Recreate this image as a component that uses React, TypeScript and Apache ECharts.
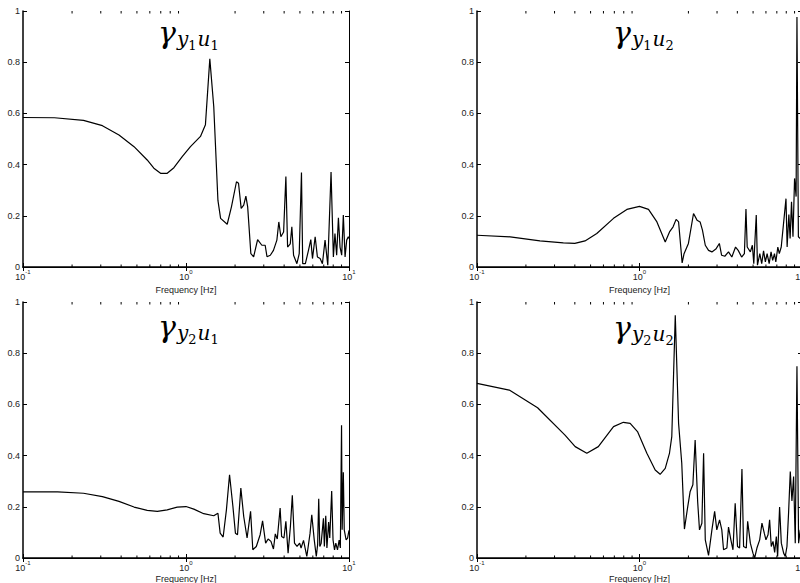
import React, { useEffect, useRef } from "react";
import * as echarts from "echarts";

const panelTitles = [
  ["y", "1", "u", "1"],
  ["y", "1", "u", "2"],
  ["y", "2", "u", "1"],
  ["y", "2", "u", "2"],
];
const xAxisName = "Frequency [Hz]";
const minorTickFreqs = [0.2, 0.3, 0.4, 0.5, 0.6, 0.7, 0.8, 0.9, 2, 3, 4, 5, 6, 7, 8, 9];

const cohY1U1: [number, number][] = [
  [0.1, 0.584], [0.156, 0.583], [0.235, 0.573], [0.307, 0.552], [0.388, 0.516], [0.48, 0.47],
  [0.578, 0.418], [0.635, 0.386], [0.698, 0.366], [0.767, 0.366], [0.843, 0.388], [0.948, 0.431],
  [1.065, 0.47], [1.227, 0.51], [1.316, 0.556], [1.4, 0.813], [1.48, 0.627], [1.57, 0.26],
  [1.63, 0.19], [1.79, 0.167], [1.9, 0.235], [2.04, 0.333], [2.1, 0.327], [2.18, 0.229],
  [2.26, 0.242], [2.33, 0.277], [2.39, 0.235], [2.5, 0.052], [2.6, 0.04], [2.75, 0.107],
  [2.92, 0.085], [3.06, 0.085], [3.14, 0.04], [3.29, 0.046], [3.44, 0.065], [3.61, 0.105],
  [3.71, 0.176], [3.82, 0.118], [3.97, 0.137], [4.1, 0.353], [4.2, 0.078], [4.36, 0.09],
  [4.46, 0.157], [4.57, 0.046], [4.79, 0.013], [4.95, 0.052], [5.11, 0.369], [5.2, 0.013],
  [5.4, 0.013], [5.64, 0.065], [5.83, 0.107], [5.97, 0.033], [6.2, 0.118], [6.4, 0.039],
  [6.65, 0.033], [6.87, 0.013], [7.13, 0.105], [7.41, 0.007], [7.76, 0.371], [8.02, 0.039],
  [8.2, 0.131], [8.4, 0.046], [8.61, 0.192], [8.81, 0.078], [9.02, 0.046], [9.23, 0.203],
  [9.46, 0.039], [9.68, 0.105], [9.9, 0.118], [10, 0.111],
];

const cohY1U2: [number, number][] = [
  [0.1, 0.124], [0.16, 0.118], [0.244, 0.102], [0.34, 0.094], [0.4, 0.092], [0.462, 0.102],
  [0.546, 0.131], [0.692, 0.19], [0.836, 0.225], [1.0, 0.237], [1.136, 0.225], [1.28, 0.176],
  [1.44, 0.098], [1.53, 0.137], [1.61, 0.157], [1.68, 0.186], [1.74, 0.176], [1.83, 0.016],
  [1.88, 0.052], [2.0, 0.092], [2.15, 0.209], [2.26, 0.183], [2.36, 0.176], [2.44, 0.144],
  [2.54, 0.085], [2.66, 0.065], [2.79, 0.059], [2.95, 0.07], [3.1, 0.092], [3.2, 0.046],
  [3.35, 0.042], [3.53, 0.059], [3.7, 0.039], [3.9, 0.078], [4.05, 0.065], [4.25, 0.039],
  [4.42, 0.052], [4.52, 0.226], [4.6, 0.078], [4.81, 0.059], [4.95, 0.085], [5.05, 0.013],
  [5.23, 0.203], [5.32, 0.007], [5.5, 0.052], [5.65, 0.013], [5.8, 0.063], [5.95, 0.02],
  [6.1, 0.052], [6.28, 0.013], [6.45, 0.059], [6.6, 0.026], [6.77, 0.052], [6.9, 0.02],
  [7.1, 0.078], [7.25, 0.052], [7.45, 0.078], [7.97, 0.267], [8.1, 0.078], [8.3, 0.205],
  [8.45, 0.111], [8.62, 0.255], [8.8, 0.118], [9.0, 0.346], [9.2, 0.275], [9.31, 0.977],
  [9.5, 0.118], [9.76, 0.111], [10, 0.115],
];

const cohY2U1: [number, number][] = [
  [0.1, 0.258], [0.163, 0.258], [0.235, 0.253], [0.307, 0.24], [0.388, 0.221], [0.48, 0.199],
  [0.578, 0.186], [0.667, 0.182], [0.767, 0.188], [0.883, 0.199], [1.0, 0.201], [1.117, 0.191],
  [1.285, 0.173], [1.48, 0.165], [1.57, 0.175], [1.62, 0.097], [1.69, 0.082], [1.77, 0.188],
  [1.85, 0.325], [1.94, 0.201], [2.01, 0.097], [2.07, 0.091], [2.17, 0.273], [2.26, 0.162],
  [2.37, 0.078], [2.49, 0.182], [2.57, 0.032], [2.7, 0.045], [2.85, 0.091], [2.95, 0.145],
  [3.08, 0.058], [3.19, 0.074], [3.32, 0.065], [3.44, 0.035], [3.53, 0.094], [3.63, 0.074],
  [3.78, 0.195], [3.86, 0.084], [3.99, 0.078], [4.1, 0.143], [4.23, 0.019], [4.37, 0.123],
  [4.49, 0.245], [4.63, 0.058], [4.8, 0.045], [4.98, 0.058], [5.08, 0.039], [5.26, 0.069],
  [5.51, 0.006], [5.77, 0.097], [5.91, 0.169], [6.12, 0.071], [6.3, 0.006], [6.42, 0.052],
  [6.52, 0.231], [6.62, 0.045], [6.75, 0.058], [6.97, 0.155], [7.06, 0.045], [7.2, 0.165],
  [7.32, 0.039], [7.5, 0.14], [7.62, 0.078], [7.83, 0.262], [7.98, 0.071], [8.15, 0.032],
  [8.3, 0.058], [8.5, 0.032], [8.7, 0.07], [8.85, 0.039], [9.0, 0.519], [9.08, 0.11],
  [9.23, 0.335], [9.35, 0.11], [9.6, 0.071], [9.8, 0.078], [10, 0.108],
];

const cohY2U2: [number, number][] = [
  [0.1, 0.682], [0.158, 0.656], [0.236, 0.587], [0.348, 0.48], [0.402, 0.435], [0.474, 0.409],
  [0.558, 0.435], [0.692, 0.513], [0.796, 0.53], [0.876, 0.526], [0.972, 0.494], [1.11, 0.409],
  [1.249, 0.344], [1.34, 0.327], [1.44, 0.35], [1.53, 0.41], [1.58, 0.474], [1.66, 0.948],
  [1.74, 0.526], [1.82, 0.37], [1.89, 0.113], [1.98, 0.2], [2.05, 0.26], [2.13, 0.286],
  [2.2, 0.461], [2.28, 0.22], [2.34, 0.11], [2.42, 0.136], [2.48, 0.409], [2.54, 0.071],
  [2.66, 0.01], [2.79, 0.11], [2.9, 0.182], [2.99, 0.11], [3.11, 0.149], [3.21, 0.11],
  [3.29, 0.032], [3.45, 0.039], [3.53, 0.121], [3.65, 0.071], [3.76, 0.032], [3.88, 0.214],
  [4.01, 0.045], [4.13, 0.039], [4.27, 0.348], [4.37, 0.045], [4.54, 0.039], [4.63, 0.143],
  [4.81, 0.058], [4.99, 0.019], [5.11, 0.0], [5.28, 0.039], [5.49, 0.071], [5.67, 0.136],
  [5.86, 0.097], [6.0, 0.071], [6.18, 0.091], [6.32, 0.149], [6.47, 0.045], [6.63, 0.065],
  [6.79, 0.022], [6.95, 0.084], [7.08, 0.006], [7.28, 0.199], [7.46, 0.058], [7.71, 0.019],
  [7.89, 0.006], [8.08, 0.045], [8.27, 0.178], [8.47, 0.338], [8.67, 0.223], [8.88, 0.318],
  [9.09, 0.058], [9.31, 0.749], [9.53, 0.058], [9.76, 0.11], [10, 0.1],
];

const seriesData = [cohY1U1, cohY1U2, cohY2U1, cohY2U2];

const grids = [
  { left: 23, top: 11, width: 326, height: 256 },
  { left: 477, top: 11, width: 325, height: 256 },
  { left: 23, top: 302, width: 326, height: 256 },
  { left: 477, top: 302, width: 325, height: 256 },
];
const titlePos = [
  [158, 20],
  [613, 20],
  [158, 314],
  [613, 315],
];

const SANS = "Liberation Sans";
const SERIF = "'DejaVu Serif', serif";

export default function App() {
  const ref = useRef<HTMLDivElement>(null);
  useEffect(() => {
    document.body.style.margin = "0";
    const chart = echarts.init(ref.current!, null, { renderer: "svg" });
    const xAxes: any[] = [];
    const yAxes: any[] = [];
    const series: any[] = [];
    grids.forEach((g, i) => {
      xAxes.push({
        type: "log",
        logBase: 10,
        gridIndex: i,
        min: 0.1,
        max: 10,
        position: "bottom",
        name: xAxisName,
        nameLocation: "middle",
        nameGap: i < 2 ? 18 : 16,
        nameTextStyle: { fontFamily: SANS, fontSize: 9, color: "#222" },
        axisLine: { show: true, lineStyle: { color: "#000", width: 1.5 } },
        axisTick: { show: true, inside: true, length: 4, lineStyle: { color: "#000" } },
        splitLine: { show: false },
        axisLabel: {
          margin: 3,
          color: "#222",
          formatter: (v: number) => {
            const e = Math.round(Math.log10(v));
            return `{b|10}{e|${e}}`;
          },
          rich: {
            b: { fontFamily: SANS, fontSize: 9, color: "#222", verticalAlign: "bottom", lineHeight: 11 },
            e: { fontFamily: SANS, fontSize: 6, color: "#222", verticalAlign: "bottom", lineHeight: 11, padding: [0, 0, 6, 0] },
          },
        },
      });
      xAxes.push({
        type: "log",
        logBase: 10,
        gridIndex: i,
        min: 0.1,
        max: 10,
        position: "top",
        axisLine: { show: true, lineStyle: { color: "#000", width: 1 } },
        axisTick: { show: true, inside: true, length: 4, lineStyle: { color: "#000" } },
        axisLabel: { show: false },
        splitLine: { show: false },
      });
      yAxes.push({
        type: "value",
        gridIndex: i,
        min: 0,
        max: 1,
        interval: 0.2,
        position: "left",
        axisLine: { show: true, lineStyle: { color: "#000", width: 1.5 } },
        axisTick: { show: true, inside: true, length: 4, lineStyle: { color: "#000" } },
        splitLine: { show: false },
        axisLabel: { margin: 3, fontFamily: SANS, fontSize: 9, color: "#222" },
      });
      yAxes.push({
        type: "value",
        gridIndex: i,
        min: 0,
        max: 1,
        interval: 0.2,
        position: "right",
        axisLine: { show: true, lineStyle: { color: "#000", width: 1 } },
        axisTick: { show: true, inside: true, length: 4, lineStyle: { color: "#000" } },
        splitLine: { show: false },
        axisLabel: { show: false },
      });
      series.push({
        type: "line",
        xAxisIndex: 2 * i,
        yAxisIndex: 2 * i,
        data: seriesData[i],
        showSymbol: false,
        symbol: "none",
        lineStyle: { color: "#000", width: 1.2 },
        z: 3,
      });
      series.push({
        type: "custom",
        xAxisIndex: 2 * i,
        yAxisIndex: 2 * i,
        data: minorTickFreqs.map((f) => [f, 0]),
        encode: { x: 0, y: 1 },
        renderItem: (params: any, api: any) => {
          const f = api.value(0);
          const pb = api.coord([f, 0]);
          const pt = api.coord([f, 1]);
          return {
            type: "group",
            children: [
              { type: "line", shape: { x1: pb[0], y1: pb[1], x2: pb[0], y2: pb[1] - 2.5 }, style: { stroke: "#000", lineWidth: 1 } },
              { type: "line", shape: { x1: pt[0], y1: pt[1], x2: pt[0], y2: pt[1] + 2.5 }, style: { stroke: "#000", lineWidth: 1 } },
            ],
          };
        },
        silent: true,
        z: 4,
      });
    });

    const graphics = panelTitles.map((t, i) => ({
      type: "text",
      x: titlePos[i][0],
      y: titlePos[i][1],
      z: 10,
      style: {
        text: `{g|γ}{s|${t[0]}}{d|${t[1]}}{s|${t[2]}}{d|${t[3]}}`,
        fill: "#000",
        rich: {
          g: { fontFamily: SERIF, fontStyle: "italic", fontSize: 30, lineHeight: 32, verticalAlign: "bottom", padding: [0, 1, 5, 0], fill: "#000" },
          s: { fontFamily: SERIF, fontStyle: "italic", fontSize: 20, lineHeight: 22, verticalAlign: "bottom", padding: [0, 0, 3, 0], fill: "#000" },
          d: { fontFamily: SERIF, fontSize: 13, lineHeight: 15, verticalAlign: "bottom", padding: [0, 1, 0, 0], fill: "#000" },
        },
      },
    }));

    chart.setOption({
      animation: false,
      backgroundColor: "#fff",
      grid: grids.map((g) => ({ ...g, containLabel: false, outerBoundsMode: "none" })),
      xAxis: xAxes,
      yAxis: yAxes,
      series,
      graphic: graphics,
    });
    return () => chart.dispose();
  }, []);
  return <div ref={ref} style={{ width: 800, height: 583 }} />;
}
